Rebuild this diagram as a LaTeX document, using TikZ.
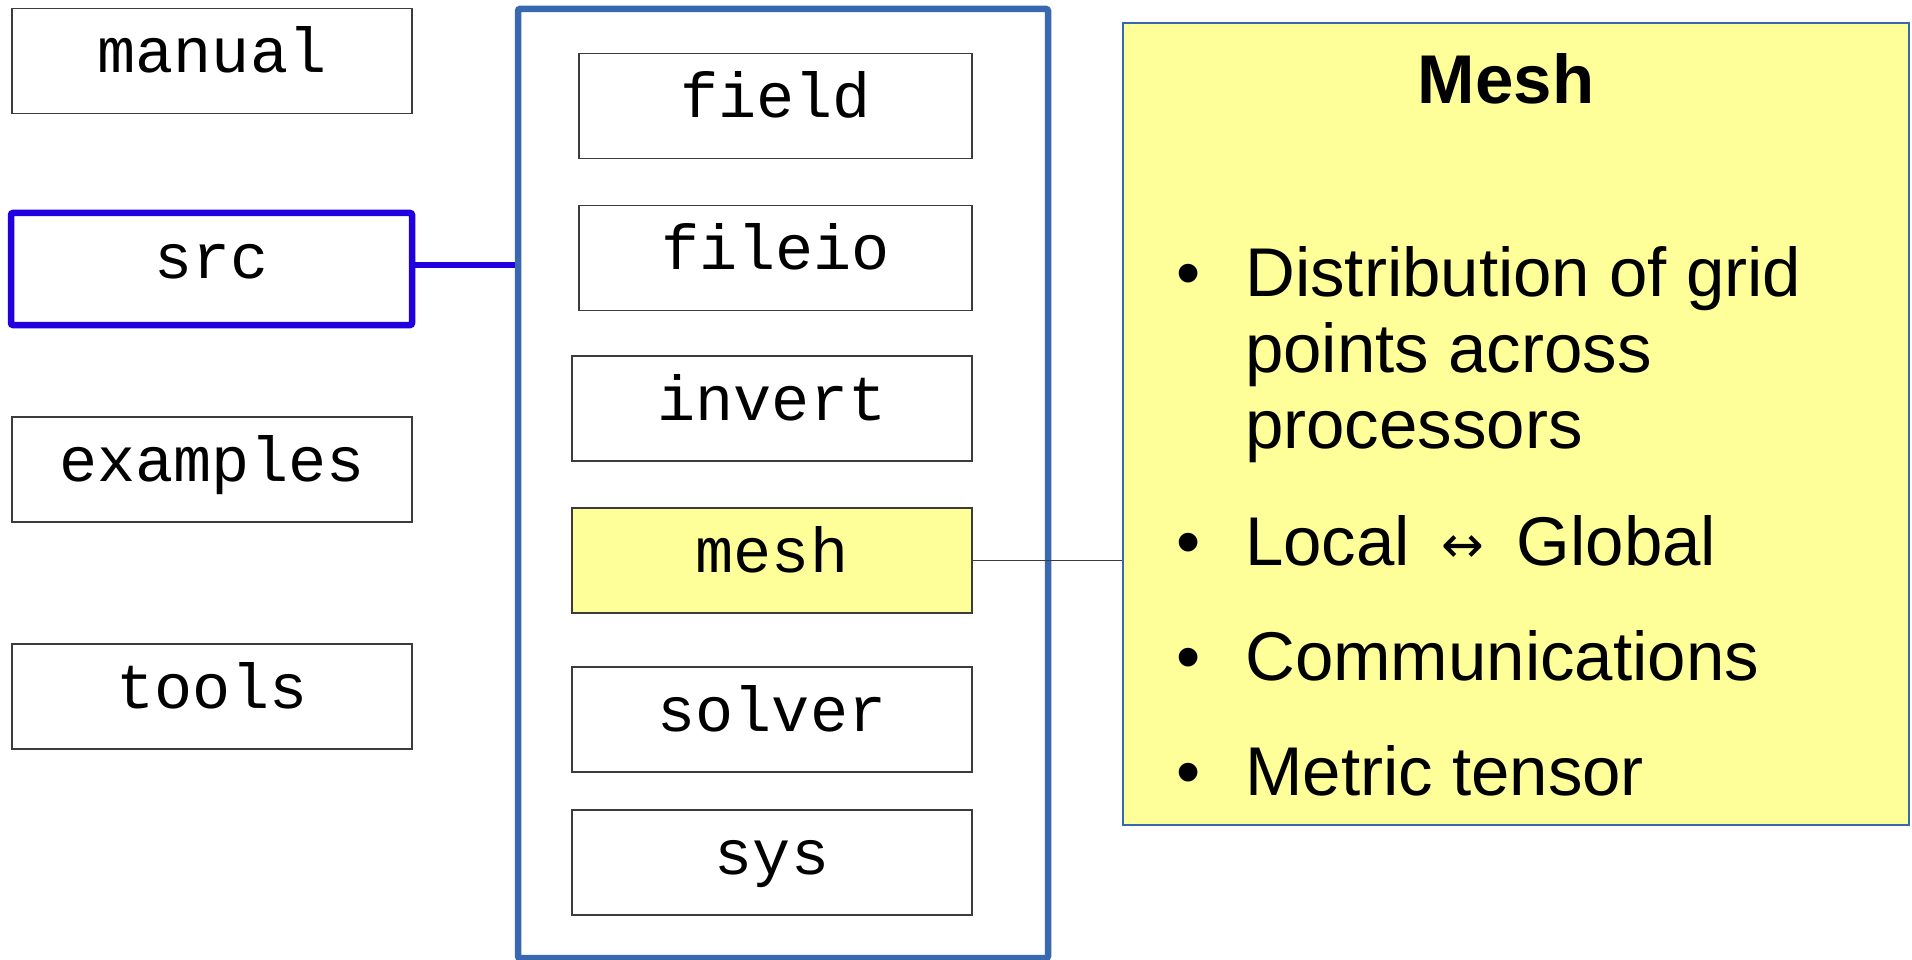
\documentclass[tikz,border=0pt]{standalone}
\usepackage{fontspec}
\setmainfont{Liberation Sans}
\newfontfamily\dirfont{Liberation Mono}
\newfontfamily\symfont{DejaVu Sans}
\definecolor{dirblue}{RGB}{56,104,176}
\definecolor{srcblue}{RGB}{34,0,221}
\definecolor{noteyellow}{RGB}{255,255,153}
\definecolor{boxline}{RGB}{60,60,60}

\tikzset{
  dirbox/.style={draw=boxline, line width=1.3pt, fill=white,
    inner xsep=0pt, inner ysep=0pt,
    font=\dirfont\fontsize{63.5}{70}\selectfont,
    text height=64pt, text depth=41pt, minimum width=400pt},
  srcbox/.style={dirbox, draw=srcblue, line width=6.5pt, rounded corners=2pt,
    text height=65pt, text depth=47pt, minimum width=401pt},
  container/.style={draw=dirblue, line width=6.5pt, rounded corners=2pt,
    minimum width=530pt, minimum height=949pt, inner sep=0pt},
  notepanel/.style={draw=dirblue, line width=1.2pt, fill=noteyellow,
    minimum width=786pt, minimum height=802pt, inner sep=0pt},
  notetext/.style={anchor=base west, inner sep=0pt,
    font=\fontsize{69}{76}\selectfont},
  bulletmark/.style={anchor=base, inner sep=0pt,
    font=\fontsize{69}{76}\selectfont},
  thinlink/.style={draw=boxline, line width=1.3pt},
  srclink/.style={draw=srcblue, line width=6.5pt}
}

\begin{document}
\begin{tikzpicture}[x=1pt, y=-1pt]
\useasboundingbox (0,0) rectangle (1912,960);

% top-level directories
\node[dirbox, minimum width=400pt] (manual)   at (212,61)    {manual};
\node[srcbox]                      (src)      at (211.5,269) {src};
\node[dirbox, minimum width=400pt] (examples) at (212,469.5) {examples};
\node[dirbox, minimum width=400pt] (tools)    at (212,696.5) {tools};

% contents of src
\node[container] (srcdir) at (783,483.5) {};
\node[dirbox, minimum width=393pt] (field)  at (775.5,106)   {field};
\node[dirbox, minimum width=393pt] (fileio) at (775.5,258)   {fileio};
\node[dirbox] (invert) at (772,408.5) {invert};
\node[dirbox, fill=noteyellow] (mesh) at (772,560.5) {mesh};
\node[dirbox] (solver) at (772,719.5) {solver};
\node[dirbox] (sys)    at (772,862.5) {sys};

\draw[srclink] ([yshift=4pt]src.east) -- ([yshift=4pt]src.east -| srcdir.west);

% description of the mesh directory
\node[notepanel] (panel) at (1516,424) {};
\draw[thinlink] (mesh.east) -- (mesh.east -| panel.west);

\node[anchor=base, inner sep=0pt, font=\bfseries\fontsize{69}{76}\selectfont]
  (title) at (1506,104) {Mesh};

\node[bulletmark] (b1) at (1189,296) {•};
\node[notetext] (t1a) at (1245,296) {Distribution of grid};
\node[notetext] (t1b) at (1245,372) {points across};
\node[notetext] (t1c) at (1245,448) {processors};

\node[bulletmark] (b2) at (1189,565) {•};
\node[notetext] (t2) at (1245,565)
  {Local\hspace*{31pt}{\symfont\fontsize{51}{60}\selectfont\raisebox{3pt}{↔}}\hspace*{33pt}Global};

\node[bulletmark] (b3) at (1189,680) {•};
\node[notetext] (t3) at (1245,680) {Communications};

\node[bulletmark] (b4) at (1189,795) {•};
\node[notetext] (t4) at (1245,795) {Metric tensor};
\end{tikzpicture}
\end{document}
